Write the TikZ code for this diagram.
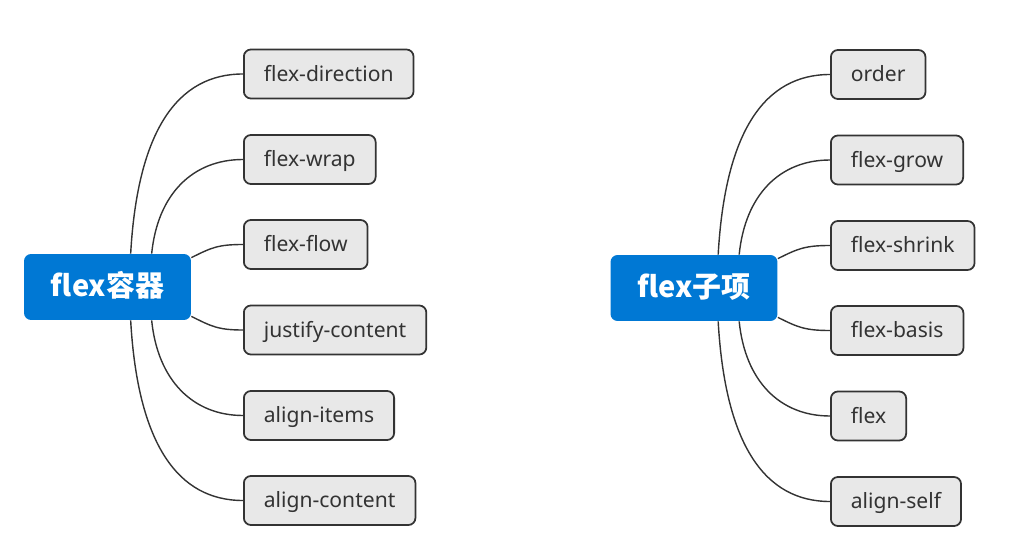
\documentclass[tikz,border=0pt]{standalone}
\usepackage{fontspec}
\setmainfont{Noto Sans}
\newfontfamily\cjk{Noto Sans CJK SC}
\usetikzlibrary{calc,positioning}
\definecolor{rootBlue}{RGB}{0,120,212}
\definecolor{leafGray}{RGB}{232,232,232}
\definecolor{lineDark}{RGB}{51,51,51}

\begin{document}
\begin{tikzpicture}[x=0.02cm,y=-0.02cm,
  rootbox/.style={rounded corners=4pt,fill=rootBlue,text=white,minimum width=3.34cm,minimum height=1.32cm,inner sep=0pt,text height=13pt,text depth=2pt,font=\cjk\bfseries\fontsize{16.5}{18}\selectfont},
  leafbox/.style={rounded corners=4pt,draw=lineDark,fill=leafGray,line width=1pt,anchor=west,inner xsep=0.4cm,minimum height=0.98cm,text height=10pt,text depth=1.5pt,text=lineDark,font=\fontsize{12}{14}\selectfont},
  link/.style={draw=lineDark,line width=.8pt}]
\useasboundingbox (0,0) rectangle (1033,550);

% flex container
\node[rootbox] (ctr) at (107.5,287) {flex容器};
\node[leafbox] (dir) at (243,74) {flex-direction};
\node[leafbox] (wrap) at (243,159.5) {flex-wrap};
\node[leafbox] (flow) at (243,244.5) {flex-flow};
\node[leafbox] (justify) at (243,330) {justify-content};
\node[leafbox] (aitems) at (243,415.5) {align-items};
\node[leafbox] (acontent) at (243,500.5) {align-content};

\draw[link] ($(ctr.north west)+(107,0)$) .. controls +(7,-124) and +(-65,0) .. (dir.west);
\draw[link] ($(ctr.north west)+(128,0)$) .. controls +(6,-60) and +(-50,0) .. (wrap.west);
\draw[link] ($(ctr.north east)+(0,4)$) .. controls +(20,-10) and +(-25,0) .. (flow.west);
\draw[link] ($(ctr.south east)+(0,-4)$) .. controls +(20,10) and +(-25,0) .. (justify.west);
\draw[link] ($(ctr.south west)+(128,0)$) .. controls +(6,60) and +(-50,0) .. (aitems.west);
\draw[link] ($(ctr.south west)+(107,0)$) .. controls +(7,124) and +(-65,0) .. (acontent.west);

% flex items
\node[rootbox] (itm) at (694,288) {flex子项};
\node[leafbox] (order) at (830,74.5) {order};
\node[leafbox] (grow) at (830,160) {flex-grow};
\node[leafbox] (shrink) at (830,245.5) {flex-shrink};
\node[leafbox] (basis) at (830,330.5) {flex-basis};
\node[leafbox] (flexn) at (830,416) {flex};
\node[leafbox] (aself) at (830,501.5) {align-self};

\draw[link] ($(itm.north west)+(108,0)$) .. controls +(7,-124) and +(-65,0) .. (order.west);
\draw[link] ($(itm.north west)+(129,0)$) .. controls +(6,-60) and +(-50,0) .. (grow.west);
\draw[link] ($(itm.north east)+(0,4)$) .. controls +(20,-10) and +(-25,0) .. (shrink.west);
\draw[link] ($(itm.south east)+(0,-4)$) .. controls +(20,10) and +(-25,0) .. (basis.west);
\draw[link] ($(itm.south west)+(129,0)$) .. controls +(6,60) and +(-50,0) .. (flexn.west);
\draw[link] ($(itm.south west)+(108,0)$) .. controls +(7,124) and +(-65,0) .. (aself.west);
\end{tikzpicture}
\end{document}
